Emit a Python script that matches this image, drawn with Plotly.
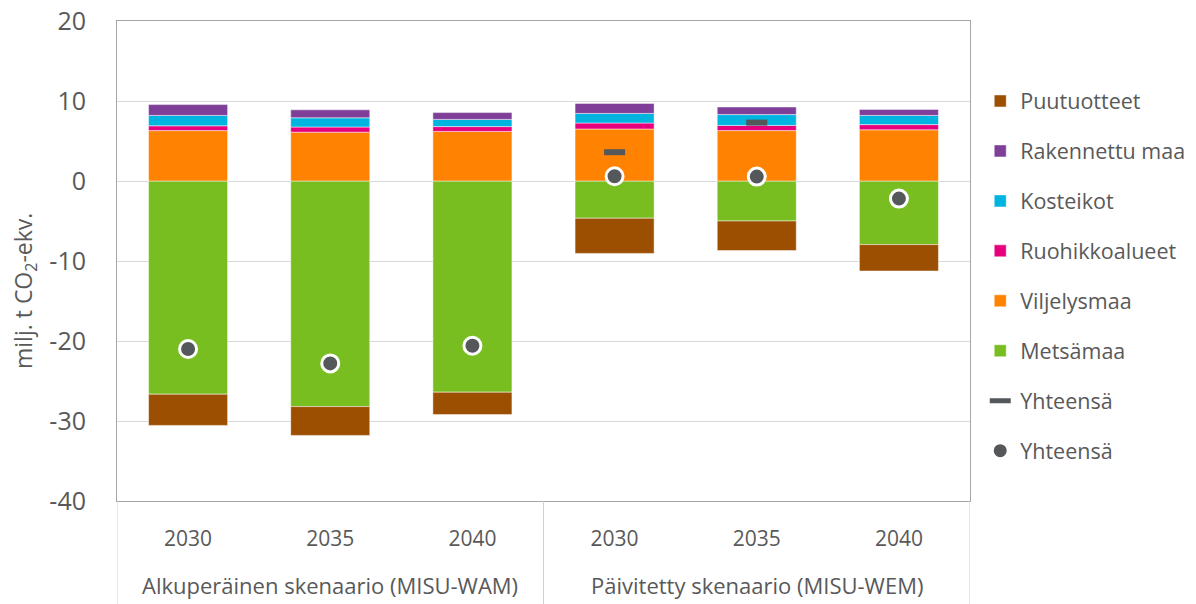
import plotly.graph_objects as go

# scenario groups and years
group_names = ["Alkuperäinen skenaario (MISU-WAM)", "Päivitetty skenaario (MISU-WEM)"]
years = ["2030", "2035", "2040", "2030", "2035", "2040"]

# milj. t CO2-ekv. per sector
metsamaa = [-26.65, -28.2, -26.4, -4.65, -5.0, -7.95]
viljelysmaa = [6.3, 6.1, 6.2, 6.5, 6.3, 6.4]
ruohikkoalueet = [0.6, 0.65, 0.6, 0.75, 0.65, 0.65]
kosteikot = [1.3, 1.15, 0.9, 1.2, 1.35, 1.15]
rakennettu_maa = [1.35, 1.0, 0.85, 1.25, 0.95, 0.75]
puutuotteet = [-3.9, -3.6, -2.8, -4.4, -3.7, -3.3]
yhteensa_dash = [None, None, None, 3.6, 7.3, None]
yhteensa_dot = [-21.0, -22.8, -20.6, 0.6, 0.55, -2.2]

ytick_vals = [20, 10, 0, -10, -20, -30, -40]

x = list(range(len(years)))
grey = "#595959"
font = "Open Sans, Noto Sans, sans-serif"

fig = go.Figure()

bars = [
    ("Metsämaa", metsamaa, "#78BE20", 6),
    ("Viljelysmaa", viljelysmaa, "#FF8200", 5),
    ("Ruohikkoalueet", ruohikkoalueet, "#E6007E", 4),
    ("Kosteikot", kosteikot, "#00B4E0", 3),
    ("Rakennettu maa", rakennettu_maa, "#7F3F98", 2),
    ("Puutuotteet", puutuotteet, "#9C4F00", 1),
]
for name, vals, col, rank in bars:
    fig.add_trace(go.Bar(
        x=x, y=vals, name=name, legendrank=rank, legendgroup=name,
        marker=dict(color=col, line=dict(color="rgba(255,255,255,0.6)", width=0.8)),
    ))

fig.add_trace(go.Scatter(
    x=x, y=yhteensa_dash, name="Yhteensä", mode="markers", legendrank=7, legendgroup="dash",
    marker=dict(symbol="line-ew", size=15, color="#55585B", line=dict(color="#55585B", width=6)),
))
fig.add_trace(go.Scatter(
    x=x, y=yhteensa_dot, name="Yhteensä", mode="markers", legendrank=8, legendgroup="dot",
    marker=dict(symbol="circle", size=17, color="#55585B", line=dict(color="white", width=3)),
))

# group labels and dividers under the axis
for i, g in enumerate(group_names):
    fig.add_annotation(x=3 * i + 1, y=-0.175, xref="x", yref="paper", text=g,
                       showarrow=False, yanchor="middle", font=dict(size=22, color=grey))
for xd in [-0.5, 2.5, 5.5]:
    fig.add_shape(type="line", x0=xd, x1=xd, xref="x", y0=0, y1=-0.23, yref="paper",
                  line=dict(color="#d0d0d0", width=1))

# y axis title, sits a bit below the axis centre in the original
fig.add_annotation(x=-0.109, y=0.4375, xref="paper", yref="paper", textangle=-90,
                   text="milj. t CO<sub>2</sub>-ekv.", showarrow=False,
                   xanchor="center", yanchor="middle", font=dict(size=23, color=grey))

fig.update_layout(
    width=1196, height=604,
    barmode="relative", bargap=0.444,
    plot_bgcolor="white", paper_bgcolor="white",
    margin=dict(l=109, r=234, t=13, b=111),
    font=dict(family=font, color=grey, size=17),
    showlegend=True,
    legend=dict(x=1.012, y=0.876, xanchor="left", yanchor="top",
                font=dict(size=21.5, color=grey), tracegroupgap=19, itemwidth=30),
)
fig.update_yaxes(
    range=[-40, 20], tickvals=ytick_vals, ticktext=[str(v) for v in ytick_vals],
    gridcolor="#d9d9d9", gridwidth=1, automargin=False, ticklabeloverflow="allow",
    zeroline=False, showline=True, linecolor="#a6a6a6", mirror=True,
    tickfont=dict(size=25, color=grey), ticklabelstandoff=25,
)
fig.update_xaxes(
    range=[-0.5, 5.5], tickvals=x, ticktext=years, automargin=False,
    showline=True, linecolor="#a6a6a6", mirror=True, showgrid=False,
    tickfont=dict(size=21, color=grey), ticklabelstandoff=19,
)

fig.write_html("out.html")
